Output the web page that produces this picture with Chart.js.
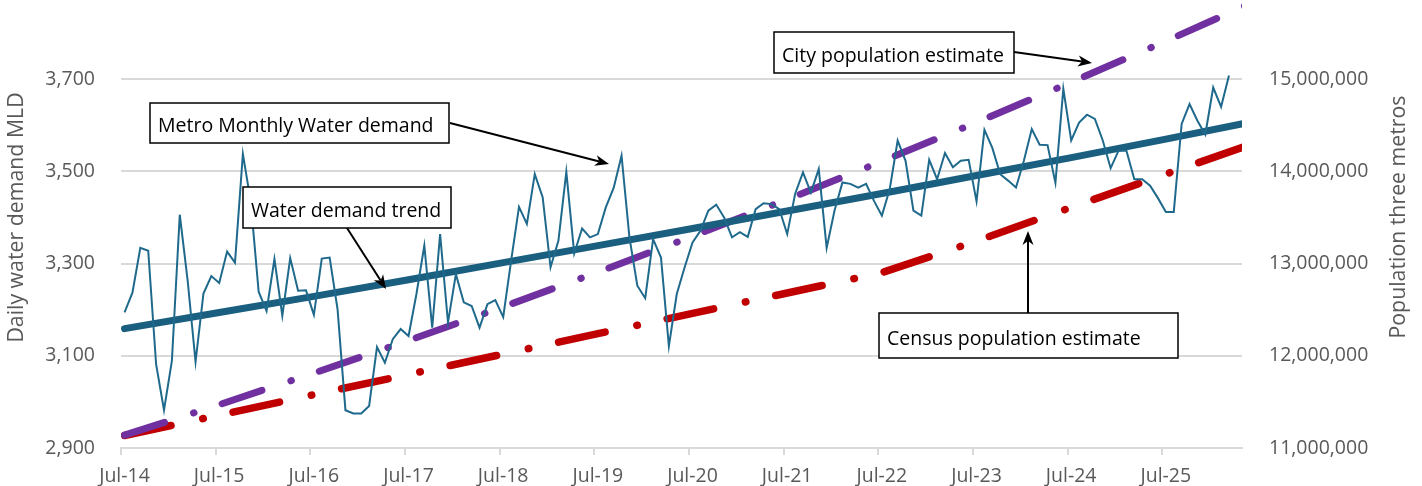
<!DOCTYPE html>
<html>
<head>
<meta charset="utf-8">
<script src="https://cdn.jsdelivr.net/npm/chart.js@4.4.1/dist/chart.umd.min.js"></script>
<style>
  html, body { margin: 0; padding: 0; background: #ffffff; overflow: hidden; width: 1422px; height: 486px; }
  #wrap { position: absolute; left: 0; top: -40px; width: 1422px; height: 526px; }
  canvas { display: block; }
</style>
</head>
<body>
<div id="wrap"><canvas id="c" width="1422" height="526"></canvas></div>
<script>
// ---------- DATA ----------
// x-axis tick labels (one every 12 months, starting Jul-14)
const xTickLabels = ['Jul-14','Jul-15','Jul-16','Jul-17','Jul-18','Jul-19','Jul-20','Jul-21','Jul-22','Jul-23','Jul-24','Jul-25'];

// Metro monthly water demand (MLD), Jul-14 .. Mar-26
const waterDemand = [
  3194, 3237, 3334, 3328, 3082, 2982, 3089, 3406, 3263, 3087, 3235, 3273,   // Jul-14 .. Jun-15
  3258, 3326, 3302, 3538, 3434, 3239, 3197, 3310, 3187, 3312, 3241, 3242,   // Jul-15 .. Jun-16
  3189, 3311, 3313, 3201, 2982, 2975, 2975, 2991, 3119, 3085, 3136, 3158,   // Jul-16 .. Jun-17
  3143, 3234, 3339, 3161, 3364, 3172, 3277, 3216, 3208, 3161, 3212, 3221,   // Jul-17 .. Jun-18
  3184, 3306, 3423, 3386, 3494, 3444, 3292, 3350, 3499, 3322, 3376, 3357,   // Jul-18 .. Jun-19
  3364, 3422, 3464, 3534, 3357, 3252, 3225, 3353, 3313, 3121, 3234, 3292,   // Jul-19 .. Jun-20
  3346, 3371, 3415, 3428, 3400, 3357, 3368, 3358, 3418, 3431, 3429, 3418,   // Jul-20 .. Jun-21
  3364, 3451, 3498, 3454, 3505, 3334, 3415, 3476, 3473, 3465, 3473, 3436,   // Jul-21 .. Jun-22
  3404, 3462, 3567, 3523, 3415, 3404, 3525, 3483, 3540, 3509, 3523, 3525,   // Jul-22 .. Jun-23
  3435, 3590, 3551, 3494, 3480, 3465, 3523, 3592, 3558, 3557, 3475, 3679,   // Jul-23 .. Jun-24
  3567, 3606, 3623, 3614, 3567, 3507, 3545, 3545, 3483, 3483, 3469, 3442,   // Jul-24 .. Jun-25
  3412, 3412, 3603, 3646, 3610, 3580, 3682, 3640, 3708                      // Jul-25 .. Mar-26
];

// Yearly values (July of each year, Jul-14 .. Jul-26)
const demandTrend      = [3159, 3194, 3229, 3265, 3302, 3339, 3376, 3414, 3452, 3491, 3530, 3570, 3611];
const cityPopulation   = [11139000, 11470000, 11812000, 12166000, 12531000, 12908000, 13297000, 13697000, 14109000, 14532000, 14967000, 15413000, 15870000];
const censusPopulation = [11136000, 11357000, 11578000, 11798000, 12019000, 12240000, 12460000, 12681000, 12902000, 13245000, 13610000, 13971000, 14330000];

// ---------- LAYOUT / STYLE ----------
const TOP = 40;              // canvas is shifted up (reference is cropped at the top)
const MID = 0.45;            // observations fall mid-month
const FONT = '"Open Sans", sans-serif';
const GREY = '#595959';
const GRID = '#D9D9D9';
const NONE = 'rgba(0,0,0,0)';

const monthly = waterDemand.map((v, i) => ({ x: i + MID, y: v }));
const yearly = arr => arr.map((v, k) => ({ x: 12 * k + MID, y: v }));

const notes = [
  { text: 'Metro Monthly Water demand', box: [150, 103, 449, 143], from: [450, 123], to: [609, 164] },
  { text: 'Water demand trend',         box: [243, 187, 451, 228], from: [347, 228], to: [386, 289] },
  { text: 'City population estimate',   box: [774, 32, 1014, 73],  from: [1014, 52], to: [1092, 63] },
  { text: 'Census population estimate', box: [879, 313, 1178, 358], from: [1028, 313], to: [1028, 231] }
];

function drawArrow(ctx, x1, y1, x2, y2) {
  const ang = Math.atan2(y2 - y1, x2 - x1);
  const L = 14, W = 5.5, N = 4;
  const bx = x2 - L * Math.cos(ang), by = y2 - L * Math.sin(ang);
  const nx = x2 - (L - N) * Math.cos(ang), ny = y2 - (L - N) * Math.sin(ang);
  ctx.beginPath();
  ctx.moveTo(x1, y1);
  ctx.lineTo(nx, ny);
  ctx.stroke();
  ctx.beginPath();
  ctx.moveTo(x2, y2);
  ctx.lineTo(bx + W * Math.sin(ang), by - W * Math.cos(ang));
  ctx.lineTo(nx, ny);
  ctx.lineTo(bx - W * Math.sin(ang), by + W * Math.cos(ang));
  ctx.closePath();
  ctx.fill();
}

const annotate = {
  id: 'annotate',
  afterDraw(chart) {
    const ctx = chart.ctx;
    ctx.save();
    // right axis title (reads bottom to top)
    ctx.save();
    ctx.translate(1398.5, 217 + TOP);
    ctx.rotate(-Math.PI / 2);
    ctx.fillStyle = GREY;
    ctx.font = '21.3px ' + FONT;
    ctx.textAlign = 'center';
    ctx.textBaseline = 'middle';
    ctx.fillText('Population three metros', 0, 0);
    ctx.restore();

    ctx.strokeStyle = '#000';
    ctx.fillStyle = '#000';
    ctx.lineWidth = 2;
    notes.forEach(n => {
      drawArrow(ctx, n.from[0], n.from[1] + TOP, n.to[0], n.to[1] + TOP);
    });
    notes.forEach(n => {
      const [x0, y0, x1, y1] = n.box;
      ctx.fillStyle = '#fff';
      ctx.fillRect(x0, y0 + TOP, x1 - x0, y1 - y0);
      ctx.lineWidth = 1.5;
      ctx.strokeStyle = '#000';
      ctx.strokeRect(x0, y0 + TOP, x1 - x0, y1 - y0);
      ctx.fillStyle = '#000';
      ctx.font = '19.5px ' + FONT;
      ctx.textAlign = 'left';
      ctx.textBaseline = 'alphabetic';
      ctx.fillText(n.text, x0 + 8, (y0 + y1) / 2 + 9 + TOP);
    });
    ctx.restore();
  }
};

Chart.defaults.font.family = FONT;

new Chart(document.getElementById('c'), {
  type: 'line',
  data: {
    datasets: [
      { label: 'Metro Monthly Water demand', data: monthly, yAxisID: 'y',
        borderColor: '#1f6a8c', borderWidth: 2, pointRadius: 0, tension: 0 },
      { label: 'Water demand trend', data: yearly(demandTrend), yAxisID: 'y',
        borderColor: '#1a5f80', borderWidth: 7, borderCapStyle: 'round', pointRadius: 0, tension: 0 },
      { label: 'City population estimate', data: yearly(cityPopulation), yAxisID: 'y1',
        borderColor: '#7030A0', borderWidth: 7, borderCapStyle: 'round',
        borderDash: [42, 30.5, 0.5, 29.5], pointRadius: 0, tension: 0 },
      { label: 'Census population estimate', data: yearly(censusPopulation), yAxisID: 'y1',
        borderColor: '#C00000', borderWidth: 7.5, borderCapStyle: 'round',
        borderDash: [47.5, 32.5, 0.5, 30.5], pointRadius: 0, tension: 0 }
    ]
  },
  options: {
    responsive: false,
    animation: false,
    devicePixelRatio: 1,
    layout: { padding: { top: 27, left: 0, right: 0, bottom: 0 } },
    plugins: { legend: { display: false }, tooltip: { enabled: false } },
    scales: {
      x: {
        type: 'linear', position: 'bottom', min: 0, max: 142.1,
        afterFit: s => { s.height = 38; },
        ticks: {
          stepSize: 12, includeBounds: false, autoSkip: false, maxRotation: 0, minRotation: 0,
          color: GREY, font: { size: 19.5 }, padding: 10, labelOffset: 3.5,
          callback: v => xTickLabels[Math.round(v / 12)] ?? ''
        },
        grid: { drawOnChartArea: false, drawTicks: true, tickLength: 7, color: GRID, lineWidth: 2 },
        border: { display: true, color: GRID, width: 2 }
      },
      y: {
        position: 'left', min: 2900, max: 3900,
        afterFit: s => { s.width = 121; },
        ticks: { stepSize: 200, color: GREY, font: { size: 19.5 }, padding: 0,
                 callback: v => v.toLocaleString('en-US') },
        grid: { color: GRID, lineWidth: 2, drawTicks: true, tickLength: 26, tickColor: NONE },
        border: { display: false },
        title: { display: true, text: 'Daily water demand MLD', color: GREY,
                 font: { size: 21.3 }, padding: { top: 4, bottom: 0 } }
      },
      y1: {
        position: 'right', min: 11000000, max: 16000000,
        afterFit: s => { s.width = 180; },
        ticks: { stepSize: 1000000, color: GREY, font: { size: 19.5 }, padding: 0,
                 callback: v => v.toLocaleString('en-US') },
        grid: { drawOnChartArea: false, drawTicks: true, tickLength: 27, tickColor: NONE },
        border: { display: false }
      }
    }
  },
  plugins: [annotate]
});
</script>
</body>
</html>
